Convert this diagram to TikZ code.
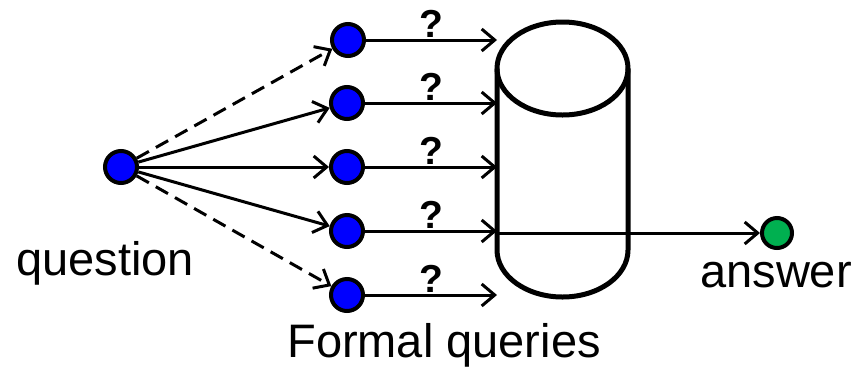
\documentclass[tikz,border=0pt]{standalone}
\usepackage{fontspec}
\setmainfont{Liberation Sans}
\usetikzlibrary{arrows.meta}
\begin{document}
\begin{tikzpicture}[x=1pt,y=-1pt,
  dot/.style={circle,draw=black,line width=4pt,fill=blue,minimum size=32pt,inner sep=0pt},
  ansdot/.style={dot,fill={rgb,255:red,0;green,176;blue,80},minimum size=30pt},
  link/.style={line width=3pt,-{Straight Barb[length=13pt,width=22pt,line width=3pt]}},
  qmark/.style={font=\fontsize{39}{42}\selectfont\bfseries,inner sep=1pt,above},
  label/.style={font=\fontsize{47}{52}\selectfont,inner sep=0pt,anchor=base}]
\useasboundingbox (0,0) rectangle (853,373);

% database cylinder
\begin{scope}[line width=5pt]
  \draw (562.5,68.5) ellipse [x radius=65.5,y radius=46.5];
  \draw (497,68.5) -- (497,250) arc [start angle=180,end angle=0,x radius=65.5,y radius=47] -- (628,68.5);
\end{scope}
\coordinate (cylL) at (497,167);

% question and formal query nodes
\node[dot] (q) at (121,167) {};
\node[dot] (f1) at (348,40) {};
\node[dot] (f2) at (347,103) {};
\node[dot] (f3) at (347,167) {};
\node[dot] (f4) at (347,231) {};
\node[dot] (f5) at (347,295) {};
\node[ansdot] (a) at (777,233) {};

% question to queries
\draw[link,dashed,dash pattern=on 14pt off 8pt] (q) -- (f1);
\draw[link] (q) -- (f2);
\draw[link] (q) -- (f3);
\draw[link] (q) -- (f4);
\draw[link,dashed,dash pattern=on 14pt off 8pt] (q) -- (f5);

% queries into the database
\foreach \i in {1,...,5}
  \draw[link] (f\i) -- (f\i -| cylL) node[qmark,midway] {?};

% answer
\draw[link] (a -| cylL) -- (a);

% labels
\node[label] (lq) at (105,275) {question};
\node[label] (la) at (776,287) {answer};
\node[label] (lf) at (444,357) {Formal queries};
\end{tikzpicture}
\end{document}
